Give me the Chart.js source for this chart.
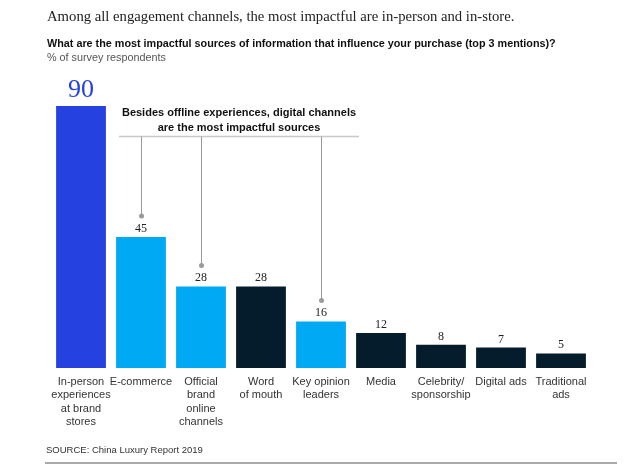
<!DOCTYPE html>
<html>
<head>
<meta charset="utf-8">
<script src="https://cdn.jsdelivr.net/npm/chart.js@4/dist/chart.umd.min.js"></script>
<style>
    body { margin: 0; background: #fff; }
    .wrap { position: relative; width: 643px; height: 473px; overflow: hidden; }
    .wrap canvas { position: absolute; left: 0; top: 0; }
    .txt { position: absolute; white-space: nowrap; }
    .title { left: 47px; top: 8px; font: 14.7px "Liberation Serif", serif; color: #222; }
    .sub { left: 47px; top: 37px; font: bold 10.8px "Liberation Sans", Arial, sans-serif; color: #111; }
    .unit { left: 47px; top: 51px; font: 10.8px "Liberation Sans", Arial, sans-serif; color: #555; }
    .source { left: 46px; top: 444px; font: 9.5px "Liberation Sans", Arial, sans-serif; color: #333; }
    .rule { position: absolute; left: 45px; top: 462px; width: 572px; height: 2px; background: #aaa; }
</style>
</head>
<body>
<div class="wrap">
    <canvas id="chart" width="643" height="473"></canvas>
    <div class="txt title">Among all engagement channels, the most impactful are in-person and in-store.</div>
    <div class="txt sub">What are the most impactful sources of information that influence your purchase (top 3 mentions)?</div>
    <div class="txt unit">% of survey respondents</div>
    <div class="txt source">SOURCE: China Luxury Report 2019</div>
    <div class="rule"></div>
</div>
<script>
    // Data
    const categories = [
        ['In-person', 'experiences', 'at brand', 'stores'],
        'E-commerce',
        ['Official', 'brand', 'online', 'channels'],
        ['Word', 'of mouth'],
        ['Key opinion', 'leaders'],
        'Media',
        ['Celebrity/', 'sponsorship'],
        'Digital ads',
        ['Traditional', 'ads']
    ];
    const values = [90, 45, 28, 28, 16, 12, 8, 7, 5];
    // offline, digital, other
    const groups = ['offline', 'digital', 'digital', 'other', 'digital', 'other', 'other', 'other', 'other'];
    const noteLines = ['Besides offline experiences, digital channels', 'are the most impactful sources'];
    const noteTargets = [1, 2, 4];

    const groupColors = { offline: '#2541e0', digital: '#00a9f4', other: '#051c2c' };

    // Value labels and the callout bracket
    const overlay = {
        id: 'overlay',
        afterDatasetsDraw: function (chart) {
            const ctx = chart.ctx;
            const x = chart.scales.x;
            const y = chart.scales.y;

            ctx.save();
            ctx.textAlign = 'center';
            ctx.textBaseline = 'alphabetic';
            values.forEach(function (v, i) {
                const px = x.getPixelForValue(i);
                const py = y.getPixelForValue(v);
                if (i === 0) {
                    ctx.font = '26px "Liberation Serif", serif';
                    ctx.fillStyle = groupColors.offline;
                    ctx.fillText(String(v), px, py - 9);
                } else {
                    ctx.font = '12px "Liberation Serif", serif';
                    ctx.fillStyle = '#222';
                    ctx.fillText(String(v), px, py - 5);
                }
            });

            // bracket
            const lineY = y.getPixelForValue(79.5);
            const left = x.getPixelForValue(noteTargets[0]) - 22;
            const right = x.getPixelForValue(noteTargets[noteTargets.length - 1]) + 38;
            ctx.strokeStyle = '#c8c8c8';
            ctx.lineWidth = 1.5;
            ctx.beginPath();
            ctx.moveTo(left, lineY);
            ctx.lineTo(right, lineY);
            ctx.stroke();

            ctx.strokeStyle = '#9a9a9a';
            ctx.fillStyle = '#9a9a9a';
            ctx.lineWidth = 1;
            noteTargets.forEach(function (i) {
                const px = Math.round(x.getPixelForValue(i)) + 0.5;
                const dotY = y.getPixelForValue(values[i]) - 21;
                ctx.beginPath();
                ctx.moveTo(px, lineY);
                ctx.lineTo(px, dotY);
                ctx.stroke();
                ctx.beginPath();
                ctx.arc(px, dotY, 2.5, 0, Math.PI * 2);
                ctx.fill();
            });

            ctx.font = 'bold 11px "Liberation Sans", Arial, sans-serif';
            ctx.fillStyle = '#111';
            ctx.textBaseline = 'middle';
            const cx = (left + right) / 2;
            noteLines.forEach(function (t, k) {
                ctx.fillText(t, cx, lineY - 24 + k * 15);
            });
            ctx.restore();
        }
    };

    new Chart(document.getElementById('chart'), {
        type: 'bar',
        data: {
            labels: categories,
            datasets: [{
                data: values,
                backgroundColor: groups.map(g => groupColors[g]),
                barPercentage: 0.83,
                categoryPercentage: 1
            }]
        },
        options: {
            responsive: false,
            animation: false,
            layout: { padding: { left: 51, right: 52, top: 106, bottom: 0 } },
            plugins: {
                legend: { display: false },
                tooltip: { enabled: false }
            },
            scales: {
                x: {
                    grid: { display: false, drawTicks: false },
                    border: { display: false },
                    ticks: {
                        color: '#333',
                        padding: 7,
                        maxRotation: 0,
                        autoSkip: false,
                        font: { family: '"Liberation Sans", Arial, sans-serif', size: 11, lineHeight: 1.22 }
                    },
                    afterFit: function (scale) { scale.height = 105; }
                },
                y: {
                    display: false,
                    min: 0,
                    max: 90
                }
            }
        },
        plugins: [overlay]
    });
</script>
</body>
</html>
